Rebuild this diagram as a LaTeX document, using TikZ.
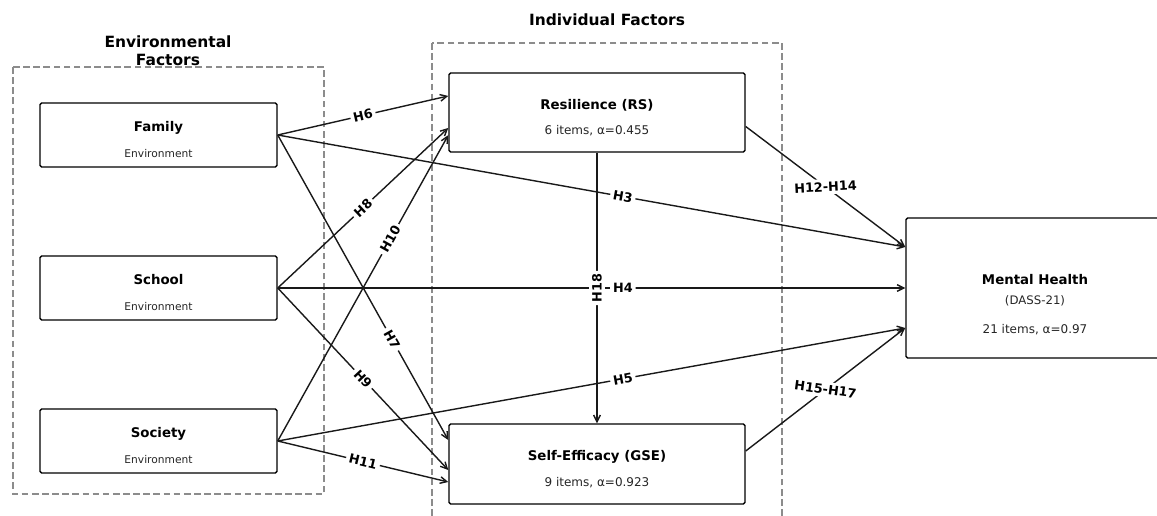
\documentclass[tikz,border=0pt]{standalone}
\usepackage{fontspec}
\setmainfont{DejaVu Sans}
\usetikzlibrary{arrows.meta}
\definecolor{dashgray}{RGB}{140,140,140}
\tikzset{
 box/.style={draw=black, line width=1.1pt, rounded corners=1.2pt, fill=white, inner sep=0pt},
 group/.style={draw=dashgray, line width=0.9pt, dash pattern=on 5pt off 2.6pt},
 grouptitle/.style={font=\fontsize{11.6}{14}\selectfont\bfseries, anchor=base, inner sep=0pt},
 boxname/.style={font=\fontsize{10}{12}\selectfont\bfseries, anchor=base, inner sep=0pt},
 boxsub/.style={font=\fontsize{8}{10}\selectfont, anchor=base, inner sep=0pt, text=black!85},
 boxstat/.style={font=\fontsize{9}{11}\selectfont, anchor=base, inner sep=0pt, text=black!85},
 conn/.style={draw=black!90, line width=1.05pt, -{Straight Barb[length=5pt,width=5pt]}},
 hlab/.style={font=\fontsize{9.6}{11}\selectfont\bfseries, fill=white, inner sep=2.2pt, rounded corners=2pt},
}
\begin{document}
\begin{tikzpicture}[x=0.75pt,y=-0.75pt]
\useasboundingbox (0,0) rectangle (1157,516);
% group frames
\draw[group] (13,67) rectangle (324,494);
\draw[group] (432,43) rectangle (782,530);
\node[grouptitle] (envt1) at (168,47.6) {Environmental};
\node[grouptitle] (envt2) at (168,65.6) {Factors};
\node[grouptitle] (indt) at (607,26) {Individual Factors};
% boxes
\node[box, minimum width=177.75pt, minimum height=48pt] (fam) at (158.5,135) {};
\node[box, minimum width=177.75pt, minimum height=48pt] (sch) at (158.5,288) {};
\node[box, minimum width=177.75pt, minimum height=48pt] (soc) at (158.5,441) {};
\node[box, minimum width=222pt, minimum height=59.25pt] (res) at (597,112.5) {};
\node[box, minimum width=222pt, minimum height=60pt] (se) at (597,464) {};
\node[box, minimum width=193.5pt, minimum height=105pt] (mh) at (1035,288) {};
% box texts
\node[boxname] (famn) at (158.5,132) {Family};
\node[boxsub] (fams) at (158.5,158) {Environment};
\node[boxname] (schn) at (158.5,285) {School};
\node[boxsub] (schs) at (158.5,311) {Environment};
\node[boxname] (socn) at (158.5,438) {Society};
\node[boxsub] (socs) at (158.5,464) {Environment};
\node[boxname] (resn) at (597,109.4) {Resilience (RS)};
\node[boxstat] (ress) at (597,135) {6 items, α=0.455};
\node[boxname] (sen) at (597,461) {Self-Efficacy (GSE)};
\node[boxstat] (ses) at (597,486.4) {9 items, α=0.923};
\node[boxname] (mhn) at (1035,285) {Mental Health};
\node[boxsub, font=\fontsize{8.8}{10}\selectfont] (mhd) at (1035,305) {(DASS-21)};
\node[boxstat] (mhs) at (1035,333.4) {21 items, α=0.97};
% connectors
\draw[conn] (fam.east) -- ([yshift=12.4pt]res.west);
\draw[conn] (fam.east) -- ([yshift=30.75pt]mh.west);
\draw[conn] (fam.east) -- ([yshift=18pt]se.west);
\draw[conn] (sch.east) -- ([yshift=-11.6pt]res.west);
\draw[conn] (sch.east) -- (mh.west);
\draw[conn] (sch.east) -- ([yshift=-4.5pt]se.west);
\draw[conn] (soc.east) -- ([yshift=-17pt]res.west);
\draw[conn] (soc.east) -- ([yshift=-30pt]mh.west);
\draw[conn] (soc.east) -- ([yshift=-13.5pt]se.west);
\draw[conn] ([yshift=-10.5pt]res.east) -- ([yshift=30.75pt]mh.west);
\draw[conn] ([yshift=9.75pt]se.east) -- ([yshift=-30pt]mh.west);
\draw[conn] (res.south) -- (se.north);
% labels
\path (fam.east) -- ([yshift=12.4pt]res.west) node[hlab, sloped, pos=0.5] {H6};
\path (fam.east) -- ([yshift=30.75pt]mh.west) node[hlab, sloped, pos=0.55] {H3};
\path (fam.east) -- ([yshift=18pt]se.west) node[hlab, sloped, pos=0.67] {H7};
\path (sch.east) -- ([yshift=-11.6pt]res.west) node[hlab, sloped, pos=0.5] {H8};
\path (sch.east) -- (mh.west) node[hlab, sloped, pos=0.55] {H4};
\path (sch.east) -- ([yshift=-4.5pt]se.west) node[hlab, sloped, pos=0.5] {H9};
\path (soc.east) -- ([yshift=-17pt]res.west) node[hlab, sloped, pos=0.66] {H10};
\path (soc.east) -- ([yshift=-30pt]mh.west) node[hlab, sloped, pos=0.55] {H5};
\path (soc.east) -- ([yshift=-13.5pt]se.west) node[hlab, sloped, pos=0.5] {H11};
\path ([yshift=-10.5pt]res.east) -- ([yshift=30.75pt]mh.west) node[hlab, rotate=3, pos=0.5] {H12-H14};
\path ([yshift=9.75pt]se.east) -- ([yshift=-30pt]mh.west) node[hlab, rotate=-8, pos=0.5] {H15-H17};
\path (res.south) -- (se.north) node[hlab, rotate=90, pos=0.5] {H18};
\end{tikzpicture}
\end{document}
